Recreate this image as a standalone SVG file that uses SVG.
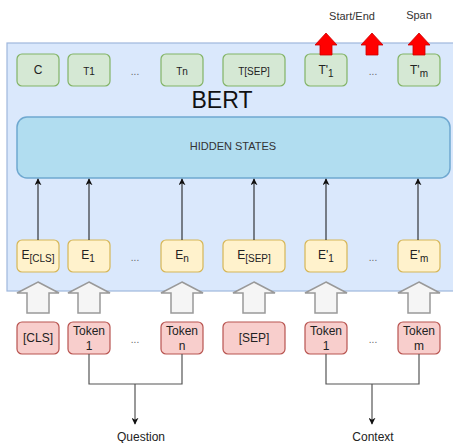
<svg xmlns="http://www.w3.org/2000/svg" width="453" height="443" viewBox="0 0 453 443">
  <style>
    text { font-family: "Liberation Sans", Arial, sans-serif; fill: #222; text-anchor: middle; }
    .out { fill: #d5e8d4; stroke: #82b366; stroke-width: 1.2; }
    .emb { fill: #fff2cc; stroke: #d6b656; stroke-width: 1.2; }
    .tok { fill: #f8cecc; stroke: #b85450; stroke-width: 1.2; }
    .lbl { font-size: 11px; }
    .big { font-size: 12px; }
    .sm { font-size: 10px; }
    .dots { font-size: 10px; fill: #666; }
    .edge { stroke: #111; stroke-width: 1; fill: none; }
    .brk { stroke: #555; stroke-width: 1.2; fill: none; }
    .flex { fill: #f5f5f5; stroke: #999; stroke-width: 1.5; }
    .red { fill: #f00; stroke: #c00; stroke-width: 0.8; }
  </style>
  <defs>
    <marker id="tip" viewBox="0 0 10 10" refX="9" refY="5" markerWidth="7" markerHeight="7" orient="auto" markerUnits="userSpaceOnUse">
      <path d="M0,0 L10,5 L0,10 L3,5 Z" fill="#111"/>
    </marker>
    <!-- wide hollow arrow, tip at (0,0) -->
    <path id="flexArrow" d="M0,0 L21,11 L11,11 L11,31 L-11,31 L-11,11 L-21,11 Z"/>
    <!-- small red output arrow, tip at (0,0) -->
    <path id="redArrow" d="M0,0 L11,12 L6,12 L6,22 L-6,22 L-6,12 L-11,12 Z"/>
  </defs>

  <!-- BERT container -->
  <g id="bert">
    <rect x="7" y="43" width="460" height="248" fill="#dae8fc" stroke="#9fb7dd" stroke-width="1.2"/>
    <text x="222" y="108" style="font-size:23px; fill:#111">BERT</text>
  </g>

  <!-- hidden states -->
  <g id="hidden">
    <rect x="17" y="117" width="433" height="61" rx="10" fill="#b1ddf0" stroke="#6fa8d0" stroke-width="1.5"/>
    <text x="233" y="150" class="lbl" style="fill:#333">HIDDEN STATES</text>
  </g>

  <!-- output tokens -->
  <g id="out-c"><rect class="out" x="17" y="54" width="42" height="32" rx="5"/><text x="38" y="74" class="big">C</text></g>
  <g id="out-t1"><rect class="out" x="68" y="54" width="42" height="32" rx="5"/><text x="89" y="75" class="sm">T1</text></g>
  <text x="135" y="75" class="dots">...</text>
  <g id="out-tn"><rect class="out" x="161" y="54" width="42" height="32" rx="5"/><text x="182" y="75" class="sm">Tn</text></g>
  <g id="out-tsep"><rect class="out" x="223" y="54" width="62" height="32" rx="5"/><text x="254" y="75" class="sm">T[SEP]</text></g>
  <g id="out-tp1"><rect class="out" x="305" y="54" width="42" height="32" rx="5"/><text x="326" y="74" class="big">T'<tspan dy="3" class="sm">1</tspan></text></g>
  <text x="373" y="75" class="dots">...</text>
  <g id="out-tpm"><rect class="out" x="398" y="54" width="42" height="32" rx="5"/><text x="419" y="74" class="big">T'<tspan dy="3" class="sm">m</tspan></text></g>

  <!-- embeddings -->
  <g id="emb-cls"><rect class="emb" x="17" y="240" width="42" height="32" rx="5"/><text x="38" y="259" class="big">E<tspan dy="3" class="sm">[CLS]</tspan></text></g>
  <g id="emb-1"><rect class="emb" x="68" y="240" width="42" height="32" rx="5"/><text x="88" y="259" class="big">E<tspan dy="3" class="sm">1</tspan></text></g>
  <text x="135" y="261" class="dots">...</text>
  <g id="emb-n"><rect class="emb" x="161" y="240" width="42" height="32" rx="5"/><text x="182" y="259" class="big">E<tspan dy="3" class="sm">n</tspan></text></g>
  <g id="emb-sep"><rect class="emb" x="223" y="240" width="62" height="32" rx="5"/><text x="254" y="259" class="big">E<tspan dy="3" class="sm">[SEP]</tspan></text></g>
  <g id="emb-p1"><rect class="emb" x="305" y="240" width="42" height="32" rx="5"/><text x="326" y="259" class="big">E'<tspan dy="3" class="sm">1</tspan></text></g>
  <text x="373" y="261" class="dots">...</text>
  <g id="emb-pm"><rect class="emb" x="398" y="240" width="42" height="32" rx="5"/><text x="419" y="259" class="big">E'<tspan dy="3" class="sm">m</tspan></text></g>

  <!-- input tokens -->
  <g id="tok-cls"><rect class="tok" x="17" y="322" width="42" height="32" rx="5"/><text x="38" y="342" class="big">[CLS]</text></g>
  <g id="tok-1"><rect class="tok" x="68" y="322" width="42" height="32" rx="5"/><text x="89" y="335" class="big">Token</text><text x="89" y="350" class="big">1</text></g>
  <text x="135" y="343" class="dots">...</text>
  <g id="tok-n"><rect class="tok" x="161" y="322" width="42" height="32" rx="5"/><text x="182" y="335" class="big">Token</text><text x="182" y="350" class="big">n</text></g>
  <g id="tok-sep"><rect class="tok" x="223" y="322" width="62" height="32" rx="5"/><text x="254" y="342" class="big">[SEP]</text></g>
  <g id="tok-p1"><rect class="tok" x="305" y="322" width="42" height="32" rx="5"/><text x="326" y="335" class="big">Token</text><text x="326" y="350" class="big">1</text></g>
  <text x="373" y="343" class="dots">...</text>
  <g id="tok-pm"><rect class="tok" x="398" y="322" width="42" height="32" rx="5"/><text x="419" y="335" class="big">Token</text><text x="419" y="350" class="big">m</text></g>

  <!-- labels outside -->
  <g id="label-question"><text x="141" y="441" class="big">Question</text></g>
  <g id="label-context"><text x="373" y="441" class="big">Context</text></g>
  <g id="label-startend"><text x="352" y="20" class="lbl" style="fill:#333">Start/End</text></g>
  <g id="label-span"><text x="419" y="19" class="lbl" style="fill:#333">Span</text></g>

  <!-- connectors -->
  <g id="connectors">
    <line class="edge" x1="38" y1="240" x2="38" y2="179" marker-end="url(#tip)"/>
    <line class="edge" x1="89" y1="240" x2="89" y2="179" marker-end="url(#tip)"/>
    <line class="edge" x1="182" y1="240" x2="182" y2="179" marker-end="url(#tip)"/>
    <line class="edge" x1="254" y1="240" x2="254" y2="179" marker-end="url(#tip)"/>
    <line class="edge" x1="326" y1="240" x2="326" y2="179" marker-end="url(#tip)"/>
    <line class="edge" x1="418" y1="240" x2="418" y2="179" marker-end="url(#tip)"/>

    <use href="#flexArrow" class="flex" x="38" y="282"/>
    <use href="#flexArrow" class="flex" x="89" y="282"/>
    <use href="#flexArrow" class="flex" x="182" y="282"/>
    <use href="#flexArrow" class="flex" x="254" y="282"/>
    <use href="#flexArrow" class="flex" x="326" y="282"/>
    <use href="#flexArrow" class="flex" x="419" y="282"/>

    <use href="#redArrow" class="red" x="326" y="33"/>
    <use href="#redArrow" class="red" x="372" y="33"/>
    <use href="#redArrow" class="red" x="419" y="33"/>

    <polyline class="brk" points="89,354 89,384 182,384 182,354"/>
    <line class="brk" x1="135" y1="384" x2="135" y2="424" marker-end="url(#tip)"/>
    <polyline class="brk" points="326,354 326,384 419,384 419,354"/>
    <line class="brk" x1="372" y1="384" x2="372" y2="424" marker-end="url(#tip)"/>
  </g>
</svg>
